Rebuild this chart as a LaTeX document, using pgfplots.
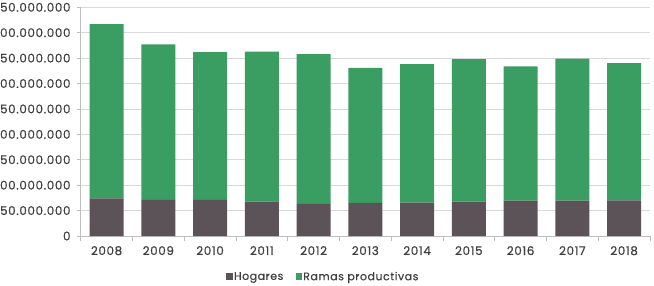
\documentclass[border=0pt]{standalone}
\usepackage{fontspec}
\setmainfont{Poppins}[LetterSpace=5, FakeBold=0.6]
\usepackage{pgfplots}
\pgfplotsset{compat=1.18}
\definecolor{hogares}{RGB}{91,83,87}
\definecolor{ramas}{RGB}{58,157,98}
\definecolor{gridc}{RGB}{217,217,217}
\definecolor{axisc}{RGB}{191,191,191}
\definecolor{textc}{RGB}{64,64,64}
\begin{document}
\fontsize{12}{14}\selectfont
\begin{tikzpicture}
\begin{axis}[
  at={(0,0)}, anchor=south west,
  scale only axis,
  width=569.3bp, height=228.7bp,
  ybar stacked, bar width=34bp,
  xmin=-0.5, xmax=10.5,
  ymin=0, ymax=450000000,
  xtick={0,...,10},
  xticklabels={2008,2009,2010,2011,2012,2013,2014,2015,2016,2017,2018},
  minor xtick={-0.5,0.5,...,10.5},
  ytick={0,50000000,...,450000000},
  scaled y ticks=false,
  /pgf/number format/fixed,
  /pgf/number format/1000 sep={.},
  /pgf/number format/assume math mode=true,
  ticklabel style={text=textc, font=\fontsize{12}{14}\selectfont},
  axis lines*=left,
  axis line style={axisc, line width=0.8bp},
  major tick length=4bp, minor tick length=5bp,
  tick style={axisc, line width=0.8bp},
  xtick style={draw=none},
  minor x tick style={draw=axisc, line width=0.8bp},
  tick align=outside,
  ymajorgrids, grid style={gridc, line width=0.8bp},
  xticklabel style={yshift=-2bp},
  yticklabel style={xshift=-2bp},
  legend style={at={(0.4256,-0.179)}, anchor=center, draw=none, fill=none,
    legend columns=2, font=\fontsize{11}{13}\selectfont, text=textc,
    nodes={inner sep=1.2bp},
    /tikz/every even column/.append style={column sep=11bp}},
  clip=false,
]
% Hogares
\addplot[fill=hogares, draw=none,
  legend image code/.code={\fill[hogares] (0bp,-3bp) rectangle (6.5bp,3.5bp);}]
  coordinates {
  (0,74000000) (1,71000000) (2,71000000) (3,67500000) (4,63000000)
  (5,65000000) (6,65500000) (7,67500000) (8,69500000) (9,69500000) (10,70000000)};
% Ramas productivas
\addplot[fill=ramas, draw=none,
  legend image code/.code={\fill[ramas] (0bp,-3bp) rectangle (6.5bp,3.5bp);}]
  coordinates {
  (0,343000000) (1,306000000) (2,291000000) (3,295500000) (4,295000000)
  (5,266000000) (6,272500000) (7,280500000) (8,264500000) (9,279500000) (10,270000000)};
\legend{Hogares, Ramas productivas}
\end{axis}
\pgfresetboundingbox
\path (-80.7bp,-50bp) rectangle (573.3bp,236bp);
\end{tikzpicture}
\end{document}
